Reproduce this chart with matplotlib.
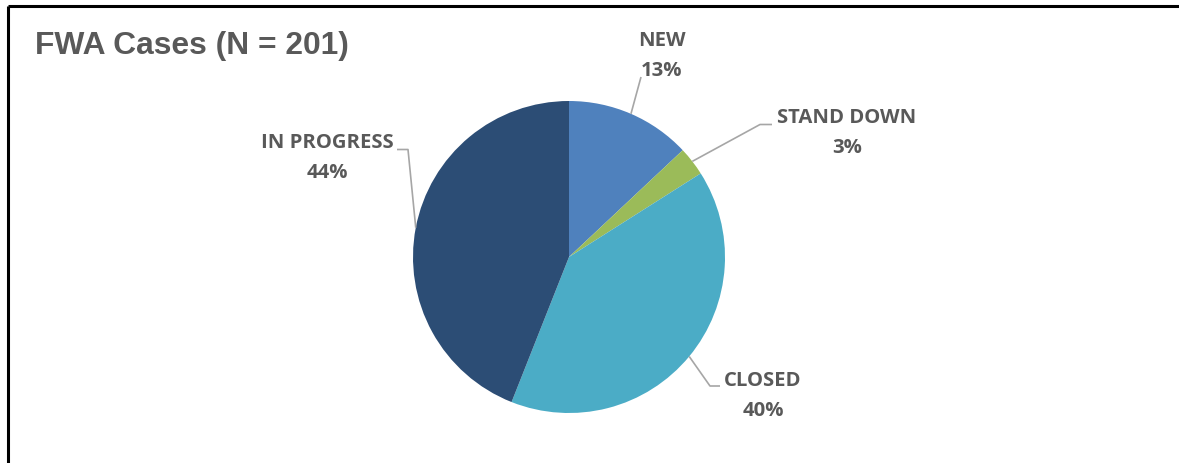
import numpy as np
import matplotlib
matplotlib.use("Agg")
import matplotlib.pyplot as plt

# FWA case status breakdown (share of 201 cases, %)
categories = ["NEW", "STAND DOWN", "CLOSED", "IN PROGRESS"]
shares = [13, 3, 40, 44]
colors = ["#4F81BD", "#9BBB59", "#4BACC6", "#2C4D75"]
title = "FWA Cases (N = 201)"

W, H = 1179, 463
fig = plt.figure(figsize=(W / 100, H / 100), dpi=100)
ax = fig.add_axes([0, 0, 1, 1])

# frame edges (left and top)
ax.plot([7.5, 7.5], [0, H - 5.5], color="black", lw=2.2, solid_capstyle="butt")
ax.plot([7.5, W], [H - 5.5, H - 5.5], color="black", lw=2.2, solid_capstyle="butt")

center = (569, H - 257)
radius = 156
wedges, _ = ax.pie(shares, colors=colors, startangle=90, counterclock=False,
                   center=center, radius=radius, frame=True,
                   wedgeprops=dict(linewidth=0))
ax.set_xlim(0, W)
ax.set_ylim(0, H)
ax.set_aspect("equal")
ax.axis("off")

text_color = "#595959"
line_color = "#A6A6A6"
label_font = dict(family=["Open Sans", "DejaVu Sans"], weight="bold", size=14.6,
                  color=text_color, ha="center", va="center", linespacing=1.68)

# label block centres and leader elbow points (pixel offsets from top-left)
label_pos = [(662, 56), (847, 133), (763, 396), (327, 158)]
elbows = [
    [(641, 77)],
    [(760, 124.5), (772, 124.5)],
    [(710, 386), (720, 386)],
    [(408, 149.5), (397, 149.5)],
]

for w, name, val, (lx, ly), elb in zip(wedges, categories, shares, label_pos, elbows):
    mid = np.deg2rad((w.theta1 + w.theta2) / 2)
    sx = center[0] + radius * np.cos(mid)
    sy = center[1] + radius * np.sin(mid)
    xs = [sx] + [p[0] for p in elb]
    ys = [sy] + [H - p[1] for p in elb]
    ax.plot(xs, ys, color=line_color, lw=1.2, solid_capstyle="butt")
    ax.text(lx, H - ly, f"{name}\n{val}%", **label_font)

ax.text(35, H - 46, title, family=["Liberation Sans", "DejaVu Sans"], weight="bold",
        size=22.9, color=text_color, ha="left", va="center")

fig.savefig("out.png", dpi=100)
